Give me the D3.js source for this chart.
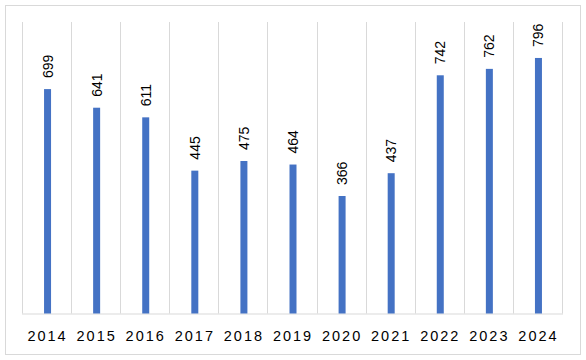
<!DOCTYPE html>
<html><head><meta charset="utf-8">
<script src="https://cdn.jsdelivr.net/npm/d3@7"></script>
<style>body{margin:0;background:#fff;}svg{display:block;}</style>
</head><body>
<svg id="c" width="586" height="360"></svg>
<script>
const years = ["2014","2015","2016","2017","2018","2019","2020","2021","2022","2023","2024"];
const values = [699,641,611,445,475,464,366,437,742,762,796];

(function(){
const svg = d3.select("#c");
svg.append("rect").attr("x",5.5).attr("y",5.5).attr("width",575).attr("height",349)
  .attr("fill","#fff").attr("stroke","#d9d9d9");

const pLeft=22, pRight=562, pTop=22, pBottom=313.5;
const x = d3.scaleBand().domain(years).range([pLeft,pRight]).padding(0);
const y = d3.scaleLinear().domain([0,908]).range([pBottom,pTop]);

const bounds = years.map(d=>x(d)).concat([pRight]);
svg.append("g").selectAll("line").data(bounds).join("line")
  .attr("x1",d=>Math.round(d)+0.5).attr("x2",d=>Math.round(d)+0.5)
  .attr("y1",pTop).attr("y2",pBottom).attr("stroke","#d9d9d9");

svg.append("line").attr("x1",pLeft).attr("x2",pRight+1).attr("y1",pBottom+0.5).attr("y2",pBottom+0.5)
  .attr("stroke","#d9d9d9");

const bw=7;
svg.append("g").selectAll("rect").data(values).join("rect")
  .attr("x",(d,i)=>x(years[i])+x.bandwidth()/2-bw/2+1)
  .attr("width",bw)
  .attr("y",d=>y(d)).attr("height",d=>pBottom-y(d))
  .attr("fill","#4472C4");

svg.append("g").selectAll("text").data(values).join("text")
  .attr("transform",(d,i)=>`translate(${x(years[i])+x.bandwidth()/2+6},${y(d)-11}) rotate(-90)`)
  .attr("font-family","Liberation Sans, Arial, sans-serif").attr("font-size",14)
  .attr("fill","#000").text(d=>d);

const xa = d3.axisBottom(x).tickSize(0).tickPadding(0);
const g = svg.append("g").attr("transform",`translate(0,${pBottom})`).call(xa);
g.select(".domain").remove();
g.selectAll("text").attr("y",27).attr("dy",0)
  .attr("font-family","Liberation Sans, Arial, sans-serif").attr("font-size",14.5)
  .attr("letter-spacing","2px").attr("fill","#000").attr("dx","1");
})();
</script>
</body></html>
